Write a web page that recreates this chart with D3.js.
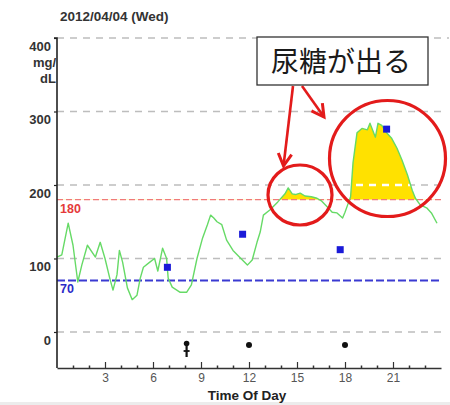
<!DOCTYPE html>
<html>
<head>
<meta charset="utf-8">
<script src="https://cdn.jsdelivr.net/npm/d3@7"></script>
<style>
  html, body { margin: 0; padding: 0; background: #fff; }
  svg { display: block; }
</style>
</head>
<body>
<svg id="chart" width="450" height="405"></svg>
<script>
// ---------------- data ----------------
const chartTitle = "2012/04/04 (Wed)";
const xTitle = "Time Of Day";
const yUnitLines = ["mg/", "dL"];
const calloutText = "尿糖が出る";
const highLimit = 180;
const lowLimit = 70;

const cgmHours = [0.0, 0.3, 0.7, 1.0, 1.3, 1.55, 1.9, 2.4, 2.7, 3.0, 3.3, 3.5, 3.75, 3.9, 4.1, 4.4, 4.7, 5.0, 5.2, 5.4, 5.8, 6.1, 6.3, 6.6, 6.85, 6.95, 7.2, 7.7, 8.1, 8.4, 8.75, 9.1, 9.4, 9.6, 9.8, 10.0, 10.3, 10.6, 11.0, 11.4, 11.9, 12.2, 12.5, 12.7, 12.9, 13.3, 13.8, 14.25, 14.45, 14.7, 14.9, 15.2, 15.5, 15.9, 16.25, 16.55, 16.9, 17.2, 17.5, 17.85, 18.0, 18.2, 18.35, 18.5, 18.75, 19.06, 19.4, 19.56, 19.9, 20.06, 20.3, 20.6, 20.9, 21.25, 21.56, 21.9, 22.2, 22.4, 22.7, 23.1, 23.4, 23.75];
const cgmValues = [102, 105, 148, 118, 68, 91, 118, 102, 122, 100, 73, 57, 78, 111, 95, 60, 44, 50, 73, 88, 95, 100, 83, 114, 100, 73, 61, 54, 54, 64, 100, 128, 146, 159, 155, 150, 146, 125, 111, 102, 91, 98, 122, 136, 159, 166, 177, 188, 196, 188, 187, 189, 185, 184, 182, 178, 170, 163, 162, 155, 163, 175, 184, 230, 271, 277, 275, 284, 265, 284, 281, 271, 264, 250, 234, 214, 193, 182, 173, 169, 162, 148];

const meterHours = [6.9, 11.6, 17.7, 20.6];
const meterValues = [88, 133, 112, 276];

const eventHours = [8.1, 12, 18];
const eventKinds = ["exercise", "meal", "meal"];

const yTickValues = [0, 100, 200, 300, 400];
const xTickValues = [3, 6, 9, 12, 15, 18, 21];
const xMinorTicks = d3.range(1, 24);

// ---------------- layout ----------------
const svg = d3.select("#chart");
const FONT = "'Liberation Sans', Arial, sans-serif";
const x = d3.scaleLinear().domain([0, 24]).range([57, 441]);
const y = d3.scaleLinear().domain([-49, 400]).range([368, 38]);

// bottom border strip of the screenshot
svg.append("rect").attr("x", 0).attr("y", 402).attr("width", 450).attr("height", 3).attr("fill", "#ececec");

// title
svg.append("text").attr("x", 60).attr("y", 21)
  .attr("font-family", FONT).attr("font-weight", "bold").attr("font-size", 13.5)
  .attr("fill", "#333").text(chartTitle);

// gridlines
const grid = svg.append("g");
grid.selectAll("line").data(yTickValues).join("line")
  .attr("x1", x(0)).attr("x2", d => d === 400 ? 449 : 442)
  .attr("y1", d => y(d)).attr("y2", d => y(d))
  .attr("stroke", "#bdbdbd").attr("stroke-width", 1.5)
  .attr("stroke-dasharray", "7,6");

// glucose fill above high limit
const lineGen = d3.line().x((d, i) => x(cgmHours[i])).y(d => y(d));
const areaGen = d3.area().x((d, i) => x(cgmHours[i])).y0(y(highLimit)).y1(d => y(d));
const defs = svg.append("defs");
defs.append("clipPath").attr("id", "above")
  .append("rect").attr("x", x(0)).attr("y", 0).attr("width", x(24) - x(0)).attr("height", y(highLimit));
svg.append("path").datum(cgmValues).attr("d", areaGen)
  .attr("fill", "#ffe100").attr("clip-path", "url(#above)");
// white dashes of gridline over fill
defs.append("clipPath").attr("id", "fillclip")
  .append("path").datum(cgmValues).attr("d", areaGen);
const fillGrid = svg.append("g").attr("clip-path", "url(#fillclip)");
fillGrid.append("g").attr("clip-path", "url(#above)")
  .selectAll("line").data(yTickValues.filter(v => v > highLimit)).join("line")
  .attr("x1", x(0)).attr("x2", 442).attr("y1", d => y(d)).attr("y2", d => y(d))
  .attr("stroke", "#ffffff").attr("stroke-width", 2.5).attr("stroke-dasharray", "7,6");

// threshold lines
svg.append("line").attr("x1", x(0)).attr("x2", 442)
  .attr("y1", y(highLimit)).attr("y2", y(highLimit))
  .attr("stroke", "#f07a7a").attr("stroke-width", 1.3).attr("stroke-dasharray", "6,3");
svg.append("line").attr("x1", x(0)).attr("x2", 442)
  .attr("y1", y(lowLimit)).attr("y2", y(lowLimit))
  .attr("stroke", "#3a3ad2").attr("stroke-width", 2).attr("stroke-dasharray", "8,3");
svg.append("text").attr("x", 60).attr("y", y(highLimit) + 13)
  .attr("font-family", FONT).attr("font-weight", "bold").attr("font-size", 12.5)
  .attr("fill", "#e53a3a").text(highLimit);
svg.append("text").attr("x", 60).attr("y", y(lowLimit) + 12)
  .attr("font-family", FONT).attr("font-weight", "bold").attr("font-size", 12.5)
  .attr("fill", "#2a2ac8").text(lowLimit);

// CGM line
svg.append("path").datum(cgmValues).attr("d", lineGen)
  .attr("fill", "none").attr("stroke", "#66da66").attr("stroke-width", 1.4)
  .attr("stroke-linejoin", "round");

// meter readings
svg.append("g").selectAll("rect").data(meterValues).join("rect")
  .attr("x", (d, i) => x(meterHours[i]) - 3.5).attr("y", d => y(d) - 3.5)
  .attr("width", 7).attr("height", 7).attr("fill", "#1a1ad8");

// events
const ev = svg.append("g").attr("fill", "#111").attr("stroke", "#111");
eventHours.forEach((h, i) => {
  const cx = x(h);
  if (eventKinds[i] === "exercise") {
    ev.append("circle").attr("cx", cx).attr("cy", 343.5).attr("r", 2.8).attr("stroke", "none");
    ev.append("line").attr("x1", cx).attr("x2", cx).attr("y1", 346).attr("y2", 357).attr("stroke-width", 2.2);
    ev.append("line").attr("x1", cx - 3).attr("x2", cx + 3).attr("y1", 351).attr("y2", 351).attr("stroke-width", 1.8);
  } else {
    ev.append("circle").attr("cx", cx).attr("cy", 345).attr("r", 3).attr("stroke", "none");
  }
});

// axes
const yAxis = d3.axisLeft(y).tickValues(yTickValues).tickSize(3).tickPadding(3).tickFormat(d3.format("d"));
const yg = svg.append("g").attr("transform", `translate(${x(0)},0)`).call(yAxis);
yg.select(".domain").attr("stroke", "#222").attr("stroke-width", 1.6).attr("d", `M-3,${y(400)}H0V${y(-49)}`);
yg.selectAll(".tick line").attr("stroke", "#222").attr("stroke-width", 1.2);
yg.selectAll(".tick text").attr("font-family", FONT).attr("font-weight", "bold")
  .attr("font-size", 13).attr("fill", "#333").attr("dy", "0.95em");
// unit lines
svg.append("g").selectAll("text").data(yUnitLines).join("text")
  .attr("x", 56).attr("y", (d, i) => 67 + i * 15.5).attr("text-anchor", "end")
  .attr("font-family", FONT).attr("font-weight", "bold").attr("font-size", 13)
  .attr("fill", "#333").text(d => d);

const xAxis = d3.axisBottom(x).tickValues(xTickValues).tickSizeInner(-6).tickSizeOuter(0).tickPadding(7);
const xg = svg.append("g").attr("transform", `translate(0,${y(-49)})`).call(xAxis);
xg.select(".domain").attr("stroke", "#333").attr("stroke-width", 1.4);
xg.selectAll(".tick line").attr("stroke", "#333").attr("stroke-width", 1.2);
xg.selectAll(".tick text").attr("font-family", FONT).attr("font-size", 12)
  .attr("fill", "#555").attr("dy", "0.55em");
const xMinor = d3.axisBottom(x).tickValues(xMinorTicks.filter(h => h % 3 !== 0)).tickSizeInner(-2.5).tickSizeOuter(0).tickFormat("");
const xm = svg.append("g").attr("transform", `translate(0,${y(-49)})`).call(xMinor);
xm.select(".domain").remove();
xm.selectAll(".tick line").attr("stroke", "#333").attr("stroke-width", 1.5);

svg.append("text").attr("x", 247).attr("y", 400).attr("text-anchor", "middle")
  .attr("font-family", FONT).attr("font-weight", "bold").attr("font-size", 13.5)
  .attr("fill", "#222").text(xTitle);

// annotations
const RED = "#e31b1b";
const ann = svg.append("g").attr("fill", "none").attr("stroke", RED).attr("stroke-width", 3.2);
ann.append("ellipse").attr("cx", 300).attr("cy", 195).attr("rx", 32).attr("ry", 30);
ann.append("ellipse").attr("cx", 387.5).attr("cy", 158.5).attr("rx", 58).attr("ry", 58);

function arrow(x1, y1, x2, y2) {
  const a = Math.atan2(y2 - y1, x2 - x1);
  const L = 14, w = 0.5;
  ann.append("line").attr("x1", x1).attr("y1", y1).attr("x2", x2).attr("y2", y2).attr("stroke-width", 2.6);
  ann.append("polyline").attr("points", [
    [x2 - L * Math.cos(a - w), y2 - L * Math.sin(a - w)],
    [x2, y2],
    [x2 - L * Math.cos(a + w), y2 - L * Math.sin(a + w)]
  ].map(p => p.join(",")).join(" ")).attr("stroke-width", 3).attr("stroke-linejoin", "miter");
}
arrow(293, 86, 283.5, 166);
arrow(302, 86, 324, 117);

svg.append("rect").attr("x", 257).attr("y", 37).attr("width", 171).attr("height", 48)
  .attr("fill", "#fff").attr("stroke", "#333").attr("stroke-width", 1.3);
svg.append("text").attr("x", 341).attr("y", 72).attr("text-anchor", "middle")
  .attr("font-family", "'Noto Sans CJK JP', sans-serif").attr("font-size", 28)
  .attr("fill", "#1a1a1a").text(calloutText);
</script>
</body>
</html>
